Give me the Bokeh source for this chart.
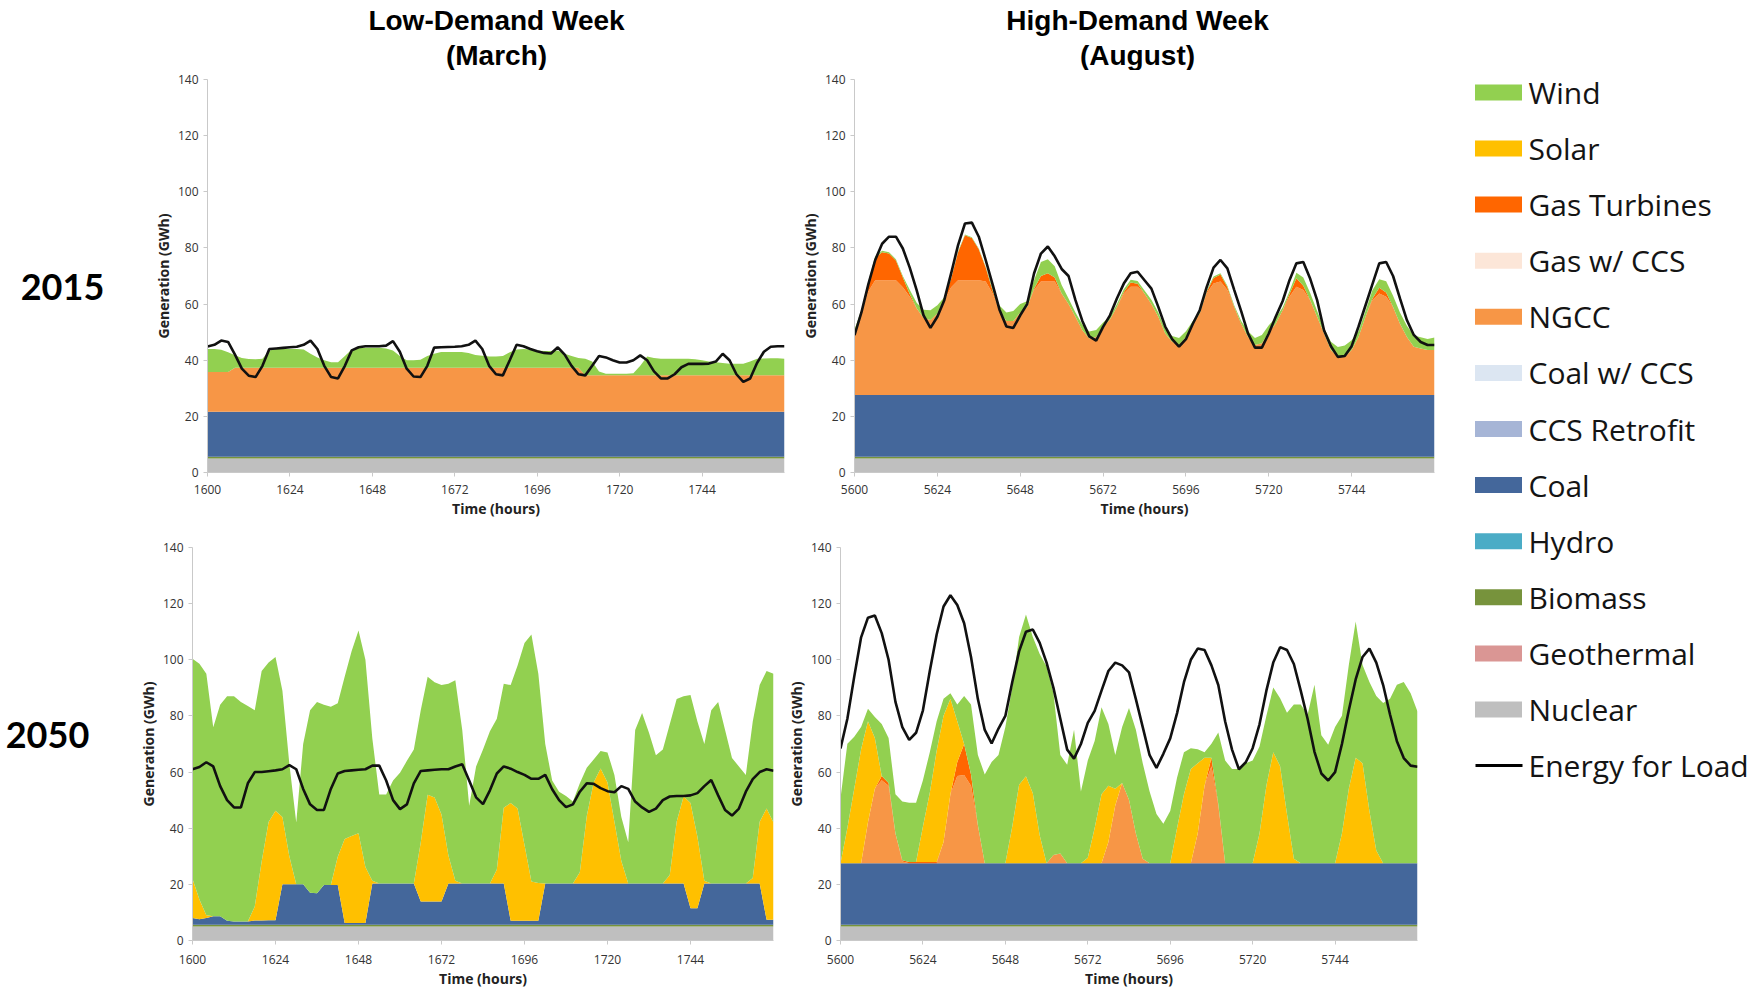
from bokeh.plotting import figure
from bokeh.models import Range1d, FixedTicker, ColumnDataSource
from bokeh.layouts import row, column
from bokeh.embed import file_html
from bokeh.resources import INLINE
from bokeh.core.properties import value

# ---------------- data (GWh, every 2 hours) ----------------
HOURS_MARCH = list(range(1600, 1770, 2))
HOURS_AUG = list(range(5600, 5770, 2))
TICKS_MARCH = [1600, 1624, 1648, 1672, 1696, 1720, 1744]
TICKS_AUG = [5600, 5624, 5648, 5672, 5696, 5720, 5744]
Y_TICKS = [0, 20, 40, 60, 80, 100, 120, 140]

COL_TITLES = ["Low-Demand Week", "High-Demand Week"]
COL_SUBTITLES = ["(March)", "(August)"]
ROW_LABELS = ["2015", "2050"]

LEGEND_NAMES = ["Wind", "Solar", "Gas Turbines", "Gas w/ CCS", "NGCC", "Coal w/ CCS",
                "CCS Retrofit", "Coal", "Hydro", "Biomass", "Geothermal", "Nuclear"]
LEGEND_COLORS = ["#92D050", "#FFC000", "#FF6600", "#FCE6D8", "#F79646", "#DCE6F2",
                 "#A6B5D6", "#44679B", "#4BACC6", "#77933C", "#DA9694", "#BFBFBF"]
LOAD_NAME = "Energy for Load"
COLOR = dict(zip(LEGEND_NAMES, LEGEND_COLORS))

NUCLEAR = [
    5.0, 5.0, 5.0, 5.0, 5.0, 5.0, 5.0, 5.0, 5.0, 5.0, 5.0, 5.0,
    5.0, 5.0, 5.0, 5.0, 5.0, 5.0, 5.0, 5.0, 5.0, 5.0, 5.0, 5.0,
    5.0, 5.0, 5.0, 5.0, 5.0, 5.0, 5.0, 5.0, 5.0, 5.0, 5.0, 5.0,
    5.0, 5.0, 5.0, 5.0, 5.0, 5.0, 5.0, 5.0, 5.0, 5.0, 5.0, 5.0,
    5.0, 5.0, 5.0, 5.0, 5.0, 5.0, 5.0, 5.0, 5.0, 5.0, 5.0, 5.0,
    5.0, 5.0, 5.0, 5.0, 5.0, 5.0, 5.0, 5.0, 5.0, 5.0, 5.0, 5.0,
    5.0, 5.0, 5.0, 5.0, 5.0, 5.0, 5.0, 5.0, 5.0, 5.0, 5.0, 5.0,
    5.0]
BIOMASS = [
    0.6, 0.6, 0.6, 0.6, 0.6, 0.6, 0.6, 0.6, 0.6, 0.6, 0.6, 0.6,
    0.6, 0.6, 0.6, 0.6, 0.6, 0.6, 0.6, 0.6, 0.6, 0.6, 0.6, 0.6,
    0.6, 0.6, 0.6, 0.6, 0.6, 0.6, 0.6, 0.6, 0.6, 0.6, 0.6, 0.6,
    0.6, 0.6, 0.6, 0.6, 0.6, 0.6, 0.6, 0.6, 0.6, 0.6, 0.6, 0.6,
    0.6, 0.6, 0.6, 0.6, 0.6, 0.6, 0.6, 0.6, 0.6, 0.6, 0.6, 0.6,
    0.6, 0.6, 0.6, 0.6, 0.6, 0.6, 0.6, 0.6, 0.6, 0.6, 0.6, 0.6,
    0.6, 0.6, 0.6, 0.6, 0.6, 0.6, 0.6, 0.6, 0.6, 0.6, 0.6, 0.6,
    0.6]

# 2015 March
TL_COAL = [
    16.0, 16.0, 16.0, 16.0, 16.0, 16.0, 16.0, 16.0, 16.0, 16.0, 16.0, 16.0,
    16.0, 16.0, 16.0, 16.0, 16.0, 16.0, 16.0, 16.0, 16.0, 16.0, 16.0, 16.0,
    16.0, 16.0, 16.0, 16.0, 16.0, 16.0, 16.0, 16.0, 16.0, 16.0, 16.0, 16.0,
    16.0, 16.0, 16.0, 16.0, 16.0, 16.0, 16.0, 16.0, 16.0, 16.0, 16.0, 16.0,
    16.0, 16.0, 16.0, 16.0, 16.0, 16.0, 16.0, 16.0, 16.0, 16.0, 16.0, 16.0,
    16.0, 16.0, 16.0, 16.0, 16.0, 16.0, 16.0, 16.0, 16.0, 16.0, 16.0, 16.0,
    16.0, 16.0, 16.0, 16.0, 16.0, 16.0, 16.0, 16.0, 16.0, 16.0, 16.0, 16.0,
    16.0]
TL_NGCC = [
    14.2, 14.2, 14.2, 14.2, 15.7, 15.7, 15.7, 15.7, 15.7, 15.7, 15.7, 15.7,
    15.7, 15.7, 15.7, 15.7, 15.7, 15.7, 15.7, 15.7, 15.7, 15.7, 15.7, 15.7,
    15.7, 15.7, 15.7, 15.7, 15.7, 15.7, 15.7, 15.7, 15.7, 15.7, 15.7, 15.7,
    15.7, 15.7, 15.7, 15.7, 15.7, 15.7, 15.7, 15.7, 15.7, 15.7, 15.7, 15.7,
    15.7, 15.7, 15.7, 15.7, 15.7, 15.7, 15.7, 13.0, 13.0, 13.0, 13.0, 13.0,
    13.0, 13.0, 13.0, 13.0, 13.0, 13.0, 13.0, 13.0, 13.0, 13.0, 13.0, 13.0,
    13.0, 13.0, 13.0, 13.0, 13.0, 13.0, 13.0, 13.0, 13.0, 13.0, 13.0, 13.0,
    13.0]
TL_WIND = [
    8.2, 8.2, 7.9, 7.0, 4.5, 3.5, 3.1, 3.0, 3.2, 6.2, 6.7, 6.7,
    6.7, 6.7, 6.5, 5.0, 3.7, 2.7, 2.0, 2.0, 4.2, 6.5, 7.1, 7.1,
    7.1, 7.1, 6.9, 6.2, 4.2, 2.7, 2.7, 2.9, 4.2, 5.0, 5.6, 5.6,
    5.6, 5.6, 5.3, 4.6, 4.3, 4.0, 4.0, 4.2, 5.5, 6.5, 6.7, 6.5,
    6.2, 6.0, 6.0, 6.2, 5.0, 4.2, 3.5, 5.9, 4.9, 1.4, 0.6, 0.6,
    0.6, 0.6, 0.8, 3.4, 6.7, 6.2, 5.9, 5.9, 5.9, 5.9, 5.9, 5.7,
    5.4, 4.9, 4.7, 4.4, 4.1, 4.1, 4.1, 4.9, 5.9, 6.0, 6.1, 6.1,
    5.9]
TL_LOAD = [
    44.9, 45.5, 47.0, 46.5, 42.0, 37.0, 34.5, 34.0, 38.0, 44.0, 44.2, 44.4,
    44.6, 44.8, 45.5, 47.0, 44.0, 38.0, 34.0, 33.5, 38.0, 43.5, 44.6, 45.0,
    45.0, 45.0, 45.2, 46.8, 43.0, 37.0, 34.2, 34.0, 38.0, 44.5, 44.6, 44.7,
    44.8, 45.0, 45.5, 47.0, 44.0, 38.0, 35.0, 34.6, 40.0, 45.5, 45.0, 44.0,
    43.2, 42.6, 42.4, 44.6, 42.0, 38.0, 35.0, 34.6, 38.0, 41.5, 41.0, 40.0,
    39.2, 39.2, 40.0, 41.7, 40.0, 36.0, 33.5, 33.5, 35.0, 37.5, 38.7, 38.7,
    38.7, 38.8, 39.5, 42.3, 40.0, 35.0, 32.3, 33.5, 39.0, 43.0, 44.8, 45.0,
    45.0]

# 2015 August
TR_COAL = [
    22.0, 22.0, 22.0, 22.0, 22.0, 22.0, 22.0, 22.0, 22.0, 22.0, 22.0, 22.0,
    22.0, 22.0, 22.0, 22.0, 22.0, 22.0, 22.0, 22.0, 22.0, 22.0, 22.0, 22.0,
    22.0, 22.0, 22.0, 22.0, 22.0, 22.0, 22.0, 22.0, 22.0, 22.0, 22.0, 22.0,
    22.0, 22.0, 22.0, 22.0, 22.0, 22.0, 22.0, 22.0, 22.0, 22.0, 22.0, 22.0,
    22.0, 22.0, 22.0, 22.0, 22.0, 22.0, 22.0, 22.0, 22.0, 22.0, 22.0, 22.0,
    22.0, 22.0, 22.0, 22.0, 22.0, 22.0, 22.0, 22.0, 22.0, 22.0, 22.0, 22.0,
    22.0, 22.0, 22.0, 22.0, 22.0, 22.0, 22.0, 22.0, 22.0, 22.0, 22.0, 22.0,
    22.0]
TR_NGCC = [
    21.3, 29.4, 36.9, 40.9, 40.9, 40.9, 40.9, 38.4, 35.0, 30.9, 27.4, 26.7,
    29.0, 33.8, 38.4, 40.9, 40.9, 40.9, 40.9, 40.4, 36.2, 29.9, 26.4, 26.4,
    29.4, 31.4, 37.4, 40.4, 40.4, 40.4, 36.2, 32.4, 27.9, 23.1, 20.1, 20.7,
    24.3, 26.9, 31.4, 36.2, 38.6, 38.6, 36.2, 32.4, 27.9, 21.9, 19.0, 17.8,
    20.7, 25.4, 29.0, 36.2, 39.7, 40.4, 37.4, 31.4, 25.4, 20.7, 17.8, 18.4,
    22.4, 25.4, 30.2, 35.0, 38.6, 37.4, 33.8, 27.9, 21.9, 16.0, 13.6, 13.6,
    16.0, 20.7, 27.9, 33.8, 36.2, 35.0, 31.4, 25.4, 20.7, 17.2, 16.6, 16.0,
    16.0]
TR_GT = [
    0.0, 0.5, 3.0, 8.0, 10.0, 9.5, 7.0, 3.5, 1.0, 0.0, 0.0, 0.0,
    0.0, 0.0, 3.0, 10.0, 16.0, 15.0, 11.0, 5.0, 1.0, 0.0, 0.0, 0.0,
    0.0, 0.0, 0.5, 2.0, 3.0, 1.5, 0.0, 0.0, 0.0, 0.0, 0.0, 0.0,
    0.0, 0.0, 0.0, 0.5, 1.5, 1.0, 0.0, 0.0, 0.0, 0.0, 0.0, 0.0,
    0.0, 0.0, 0.0, 0.5, 2.0, 2.5, 1.0, 0.0, 0.0, 0.0, 0.0, 0.0,
    0.0, 0.0, 0.0, 1.0, 3.0, 1.5, 0.0, 0.0, 0.0, 0.0, 0.0, 0.0,
    0.0, 0.0, 0.0, 0.5, 2.0, 1.5, 0.0, 0.0, 0.0, 0.0, 0.0, 0.0,
    0.0]
TR_WIND = [
    2.0, 0.5, 0.5, 0.5, 0.5, 0.5, 0.5, 0.5, 1.5, 2.0, 3.0, 3.5,
    3.0, 1.0, 0.3, 0.3, 0.3, 0.3, 0.3, 0.3, 1.0, 2.0, 3.0, 3.5,
    3.0, 2.0, 3.0, 5.0, 5.0, 4.0, 3.0, 2.0, 1.5, 2.0, 2.5, 2.5,
    1.5, 1.0, 1.0, 1.0, 1.0, 1.0, 1.0, 1.5, 1.5, 1.5, 2.0, 2.5,
    2.0, 1.0, 0.5, 0.5, 0.5, 0.5, 0.5, 0.5, 1.0, 2.0, 2.5, 3.0,
    2.5, 2.0, 1.0, 1.0, 2.0, 3.0, 2.5, 2.0, 2.0, 3.0, 3.5, 4.0,
    3.5, 2.0, 2.0, 3.0, 3.0, 4.0, 4.0, 4.0, 4.0, 4.0, 4.0, 4.0,
    4.5]
TR_LOAD = [
    48.9, 57.0, 67.0, 75.7, 81.5, 84.0, 84.0, 79.8, 73.0, 65.0, 56.0, 51.5,
    55.5, 61.4, 71.0, 81.0, 88.7, 89.0, 84.0, 75.7, 67.0, 58.0, 52.0, 51.5,
    56.0, 60.0, 70.9, 78.0, 80.5, 77.0, 72.5, 70.0, 61.4, 54.0, 48.5, 47.0,
    51.9, 56.0, 62.0, 67.3, 71.0, 71.5, 68.5, 65.5, 59.0, 52.0, 47.5, 44.8,
    47.5, 53.0, 57.8, 66.0, 73.0, 75.7, 72.7, 65.0, 57.5, 49.5, 44.5, 44.5,
    49.5, 55.5, 61.0, 68.5, 74.5, 75.0, 69.0, 61.4, 50.7, 45.0, 41.2, 41.5,
    45.0, 52.0, 59.5, 67.0, 74.5, 75.0, 70.0, 62.0, 54.3, 49.0, 46.5, 45.4,
    45.4]

# 2050 March
BL_COAL = [
    2.4, 2.0, 2.4, 3.0, 3.0, 1.4, 1.2, 1.2, 1.2, 1.5, 1.5, 1.6,
    1.6, 14.4, 14.4, 14.4, 14.4, 11.4, 11.2, 14.2, 14.2, 14.2, 0.6, 0.6,
    0.6, 0.6, 14.7, 14.7, 14.7, 14.7, 14.7, 14.7, 14.7, 8.3, 8.3, 8.3,
    8.3, 14.7, 14.7, 14.7, 14.7, 14.7, 14.7, 14.7, 14.7, 14.7, 1.4, 1.4,
    1.4, 1.4, 1.4, 14.7, 14.7, 14.7, 14.7, 14.7, 14.7, 14.7, 14.7, 14.7,
    14.7, 14.7, 14.7, 14.7, 14.7, 14.7, 14.7, 14.7, 14.7, 14.7, 14.7, 14.7,
    5.9, 5.9, 14.7, 14.7, 14.7, 14.7, 14.7, 14.7, 14.7, 14.7, 14.7, 1.8,
    1.8]
BL_SOLAR = [
    14.0, 7.0, 1.0, 0.0, 0.0, 0.0, 0.0, 0.0, 0.0, 5.0, 21.0, 35.0,
    39.0, 24.0, 10.0, 0.0, 0.0, 0.0, 0.0, 0.0, 0.0, 10.0, 30.0, 31.0,
    32.0, 20.0, 1.0, 0.0, 0.0, 0.0, 0.0, 0.0, 0.0, 21.0, 38.0, 37.0,
    31.0, 10.0, 1.0, 0.0, 0.0, 0.0, 0.0, 0.0, 5.0, 27.0, 42.0, 40.0,
    27.0, 14.0, 13.5, 0.0, 0.0, 0.0, 0.0, 0.0, 4.0, 24.0, 36.0, 41.0,
    36.0, 22.0, 8.0, 0.0, 0.0, 0.0, 0.0, 0.0, 0.0, 3.0, 22.0, 31.0,
    37.5, 25.5, 1.0, 0.0, 0.0, 0.0, 0.0, 0.0, 0.0, 2.0, 22.0, 39.6,
    34.6]
BL_WIND = [
    78.4, 84.0, 86.0, 67.4, 75.4, 80.0, 80.2, 78.2, 76.7, 69.9, 67.9, 56.8,
    54.8, 45.0, 33.0, 22.0, 50.0, 65.0, 68.2, 64.2, 63.5, 54.7, 57.8, 65.8,
    72.2, 73.8, 50.7, 31.7, 31.7, 36.7, 39.5, 43.7, 47.7, 47.1, 42.1, 41.1,
    46.1, 61.2, 71.4, 54.7, 27.7, 41.7, 47.7, 54.2, 53.7, 44.2, 42.0, 51.0,
    72.0, 88.0, 74.5, 49.7, 36.7, 32.7, 31.2, 29.2, 31.7, 17.2, 8.2, 6.2,
    10.7, 16.7, 15.7, 14.7, 54.7, 60.7, 53.7, 45.7, 47.7, 53.7, 43.7, 35.7,
    38.5, 41.0, 48.7, 61.7, 64.7, 54.7, 44.7, 41.7, 38.7, 55.7, 48.7, 49.0,
    53.0]
BL_LOAD = [
    61.0, 61.8, 63.5, 62.0, 55.0, 50.0, 47.4, 47.4, 56.0, 60.0, 60.0, 60.3,
    60.6, 61.0, 62.5, 61.0, 54.0, 48.5, 46.5, 46.5, 54.0, 59.5, 60.4, 60.6,
    60.8, 61.0, 62.3, 62.3, 57.0, 50.0, 46.8, 48.5, 56.0, 60.4, 60.6, 60.8,
    61.0, 61.0, 62.0, 62.8, 57.0, 51.0, 48.6, 53.5, 59.5, 62.0, 61.2, 60.0,
    59.0, 57.6, 57.6, 59.0, 53.9, 50.0, 47.5, 48.5, 53.0, 56.0, 55.8, 54.3,
    53.2, 52.8, 55.0, 54.0, 49.5, 47.4, 45.8, 47.0, 50.0, 51.3, 51.5, 51.5,
    51.7, 52.5, 55.0, 57.2, 51.7, 46.5, 44.5, 47.0, 53.0, 57.5, 60.0, 61.0,
    60.5]

# 2050 August
BR_COAL = [
    21.9, 21.9, 21.9, 21.9, 21.9, 21.9, 21.9, 21.9, 21.9, 21.9, 21.9, 21.9,
    21.9, 21.9, 21.9, 21.9, 21.9, 21.9, 21.9, 21.9, 21.9, 21.9, 21.9, 21.9,
    21.9, 21.9, 21.9, 21.9, 21.9, 21.9, 21.9, 21.9, 21.9, 21.9, 21.9, 21.9,
    21.9, 21.9, 21.9, 21.9, 21.9, 21.9, 21.9, 21.9, 21.9, 21.9, 21.9, 21.9,
    21.9, 21.9, 21.9, 21.9, 21.9, 21.9, 21.9, 21.9, 21.9, 21.9, 21.9, 21.9,
    21.9, 21.9, 21.9, 21.9, 21.9, 21.9, 21.9, 21.9, 21.9, 21.9, 21.9, 21.9,
    21.9, 21.9, 21.9, 21.9, 21.9, 21.9, 21.9, 21.9, 21.9, 21.9, 21.9, 21.9,
    21.9]
BR_NGCC = [
    0.0, 0.0, 0.0, 0.0, 14.6, 26.6, 29.6, 27.6, 10.6, 0.6, 0.0, 0.0,
    0.0, 0.0, 0.0, 7.6, 24.6, 31.1, 31.5, 27.6, 13.6, 0.0, 0.0, 0.0,
    0.0, 0.0, 0.0, 0.0, 0.0, 0.0, 0.0, 3.0, 3.5, 0.0, 0.0, 0.0,
    0.0, 0.0, 0.0, 7.6, 20.6, 28.6, 22.6, 10.6, 1.6, 0.0, 0.0, 0.0,
    0.0, 0.0, 0.0, 0.0, 10.6, 27.6, 34.6, 20.6, 0.0, 0.0, 0.0, 0.0,
    0.0, 0.0, 0.0, 0.0, 0.0, 0.0, 0.0, 0.0, 0.0, 0.0, 0.0, 0.0,
    0.0, 0.0, 0.0, 0.0, 0.0, 0.0, 0.0, 0.0, 0.0, 0.0, 0.0, 0.0,
    0.0]
BR_GT = [
    0.0, 0.0, 0.0, 0.0, 0.0, 0.0, 1.5, 1.0, 0.0, 0.5, 0.5, 0.5,
    0.5, 0.5, 0.5, 0.0, 0.0, 5.0, 11.0, 4.0, 0.0, 0.0, 0.0, 0.0,
    0.0, 0.0, 0.0, 0.0, 0.0, 0.0, 0.0, 0.0, 0.0, 0.0, 0.0, 0.0,
    0.0, 0.0, 0.0, 0.0, 0.0, 0.0, 0.0, 0.0, 0.0, 0.0, 0.0, 0.0,
    0.0, 0.0, 0.0, 0.0, 0.0, 0.0, 3.0, 0.5, 0.0, 0.0, 0.0, 0.0,
    0.0, 0.0, 0.0, 0.0, 0.0, 0.0, 0.0, 0.0, 0.0, 0.0, 0.0, 0.0,
    0.0, 0.0, 0.0, 0.0, 0.0, 0.0, 0.0, 0.0, 0.0, 0.0, 0.0, 0.0,
    0.0]
BR_SOLAR = [
    0.0, 12.6, 26.6, 40.6, 36.0, 18.0, 0.0, 0.0, 0.0, 0.0, 0.0, 0.0,
    12.6, 24.6, 39.6, 45.0, 34.0, 14.5, 0.0, 0.0, 0.0, 0.0, 0.0, 0.0,
    0.0, 13.0, 28.0, 31.0, 25.0, 10.0, 0.0, 0.0, 0.0, 0.0, 0.0, 0.0,
    2.0, 12.6, 24.6, 20.0, 6.0, 0.0, 0.0, 0.0, 0.0, 0.0, 0.0, 0.0,
    0.0, 12.6, 24.6, 33.6, 25.0, 10.0, 0.0, 0.0, 0.0, 0.0, 0.0, 0.0,
    0.0, 10.6, 27.6, 39.6, 34.6, 17.6, 1.6, 0.0, 0.0, 0.0, 0.0, 0.0,
    0.0, 10.6, 26.6, 37.6, 35.6, 18.6, 4.6, 0.0, 0.0, 0.0, 0.0, 0.0,
    0.0]
BR_WIND = [
    23.2, 30.0, 18.5, 8.0, 4.5, 7.5, 18.5, 16.0, 14.0, 20.9, 21.1, 21.1,
    16.5, 14.5, 10.5, 6.0, 2.0, 6.0, 17.1, 25.0, 25.0, 31.6, 36.1, 38.6,
    48.6, 49.6, 52.6, 57.6, 55.6, 64.6, 70.1, 57.6, 35.1, 35.1, 47.6, 25.6,
    34.6, 31.0, 31.0, 22.0, 12.0, 20.0, 32.7, 37.0, 34.0, 25.6, 17.6, 14.1,
    18.6, 18.0, 15.0, 7.4, 5.0, 2.0, 5.0, 25.5, 36.6, 33.6, 33.6, 35.6,
    36.6, 31.0, 25.0, 23.0, 24.2, 36.0, 55.0, 56.6, 52.9, 63.6, 45.6, 42.2,
    48.6, 42.0, 44.0, 48.5, 35.0, 46.0, 55.0, 57.1, 58.6, 63.6, 64.6, 60.6,
    54.1]
BR_LOAD = [
    68.4, 79.0, 94.0, 108.0, 115.0, 115.8, 109.5, 100.0, 85.0, 76.0, 71.5, 74.0,
    82.0, 96.0, 109.0, 119.0, 123.0, 119.5, 113.0, 101.0, 86.0, 75.0, 70.2, 75.5,
    80.0, 92.0, 103.0, 110.0, 110.8, 106.0, 99.0, 90.0, 79.0, 68.0, 64.8, 70.0,
    77.5, 81.8, 89.0, 96.0, 99.0, 98.0, 95.5, 86.0, 76.0, 66.0, 61.5, 66.5,
    72.0, 81.0, 92.0, 100.0, 104.0, 103.5, 98.0, 91.0, 78.0, 68.0, 61.0, 63.5,
    68.5, 77.0, 89.0, 99.0, 104.5, 103.5, 98.5, 89.0, 79.0, 67.2, 59.5, 57.0,
    60.0, 70.0, 82.0, 93.0, 101.0, 104.0, 99.0, 91.0, 80.5, 71.0, 65.0, 62.3,
    61.9]

for arr in [NUCLEAR, BIOMASS, TL_COAL, TL_NGCC, TL_WIND, TL_LOAD, TR_COAL, TR_NGCC, TR_GT,
            TR_WIND, TR_LOAD, BL_COAL, BL_SOLAR, BL_WIND, BL_LOAD, BR_COAL, BR_NGCC, BR_GT,
            BR_SOLAR, BR_WIND, BR_LOAD]:
    assert len(arr) == 85, len(arr)

TICK_FONT = "Open Sans"
LABEL_FONT = "Open Sans"


def make_panel(hours, ticks, layers, load, width, height, bl, br, bt, bb, tick_standoff):
    data = {"x": hours, "load": load}
    names, colors = [], []
    for name, vals in layers:
        data[name] = vals
        names.append(name)
        colors.append(COLOR[name])
    src = ColumnDataSource(data)
    p = figure(width=width, height=height, x_range=Range1d(hours[0], hours[-1]),
               y_range=Range1d(0, 140), output_backend="svg", toolbar_location=None,
               min_border_left=bl, min_border_right=br, min_border_top=bt, min_border_bottom=bb)
    p.varea_stack(stackers=names, x="x", color=colors, source=src)
    p.line("x", "load", source=src, line_color="#111111", line_width=2.6)
    p.xaxis.ticker = FixedTicker(ticks=ticks)
    p.yaxis.ticker = FixedTicker(ticks=Y_TICKS)
    p.xaxis.axis_label = "Time (hours)"
    p.yaxis.axis_label = "Generation (GWh)"
    for ax in p.axis:
        ax.axis_line_color = "#C9C9C9"
        ax.major_tick_line_color = "#C9C9C9"
        ax.minor_tick_line_color = None
        ax.major_tick_out = 4
        ax.major_tick_in = 0
        ax.major_label_text_font = TICK_FONT
        ax.major_label_text_font_size = "12px"
        ax.major_label_text_color = "#333333"
        ax.axis_label_text_font = LABEL_FONT
        ax.axis_label_text_font_size = "14px"
        ax.axis_label_text_font_style = "bold"
        ax.axis_label_text_color = "#222222"
        ax.axis_label_standoff = 2
    p.yaxis.major_label_standoff = 5
    p.xaxis.major_label_standoff = tick_standoff
    p.xgrid.visible = False
    p.ygrid.visible = False
    p.outline_line_color = None
    p.background_fill_color = "white"
    return p


def text_canvas(w, h, top=0, bottom=0):
    # frame spans h - top - bottom pixels; y runs downward in pixels from the frame top
    fh = h - top - bottom
    p = figure(width=w, height=h, x_range=Range1d(0, w), y_range=Range1d(fh, 0),
               output_backend="svg", toolbar_location=None, x_axis_type=None,
               y_axis_type=None, min_border=0, min_border_top=top, min_border_bottom=bottom)
    p.outline_line_color = None
    return p


# header with column titles
header = text_canvas(1448, 70)
header.text(x=[496, 1137], y=[20, 20], text=COL_TITLES, text_align="center",
            text_baseline="middle", text_font=value("Liberation Sans"),
            text_font_style="bold", text_font_size="28px", text_color="black")
header.text(x=[496, 1137], y=[55, 55], text=COL_SUBTITLES, text_align="center",
            text_baseline="middle", text_font=value("Liberation Sans"),
            text_font_style="bold", text_font_size="28px", text_color="black")

# row labels (frames aligned with the panels' frames in the same row)
lab1 = text_canvas(150, 465, top=9, bottom=63)
lab1.text(x=[62], y=[207], text=[ROW_LABELS[0]], text_align="center", text_baseline="middle",
          text_font=value("Lato"), text_font_style="bold", text_font_size="36px",
          text_color="black")
lab2 = text_canvas(135, 455, top=12, bottom=50)
lab2.text(x=[47], y=[187], text=[ROW_LABELS[1]], text_align="center", text_baseline="middle",
          text_font=value("Lato"), text_font_style="bold", text_font_size="36px",
          text_color="black")

tl = make_panel(HOURS_MARCH, TICKS_MARCH,
                [("Nuclear", NUCLEAR), ("Biomass", BIOMASS), ("Coal", TL_COAL),
                 ("NGCC", TL_NGCC), ("Wind", TL_WIND)], TL_LOAD,
                647, 465, 55, 13, 9, 63, 8)
tr = make_panel(HOURS_AUG, TICKS_AUG,
                [("Nuclear", NUCLEAR), ("Biomass", BIOMASS), ("Coal", TR_COAL),
                 ("NGCC", TR_NGCC), ("Gas Turbines", TR_GT), ("Wind", TR_WIND)], TR_LOAD,
                651, 465, 55, 14, 9, 63, 8)
bl = make_panel(HOURS_MARCH, TICKS_MARCH,
                [("Nuclear", NUCLEAR), ("Biomass", BIOMASS), ("Coal", BL_COAL),
                 ("Solar", BL_SOLAR), ("Wind", BL_WIND)], BL_LOAD,
                648, 455, 55, 10, 12, 50, 10)
br = make_panel(HOURS_AUG, TICKS_AUG,
                [("Nuclear", NUCLEAR), ("Biomass", BIOMASS), ("Coal", BR_COAL),
                 ("NGCC", BR_NGCC), ("Gas Turbines", BR_GT), ("Solar", BR_SOLAR),
                 ("Wind", BR_WIND)], BR_LOAD,
                665, 455, 55, 31, 12, 50, 10)

# legend
leg = text_canvas(305, 990)
n = len(LEGEND_NAMES)
ys = [91.9 + 56.1 * i for i in range(n + 1)]
leg.rect(x=[50] * n, y=ys[:n], width=47, height=16, fill_color=LEGEND_COLORS,
         line_color=None)
leg.line(x=[27, 74], y=[ys[n], ys[n]], line_color="black", line_width=3)
leg.text(x=[80] * (n + 1), y=ys, text=LEGEND_NAMES + [LOAD_NAME], text_align="left",
         text_baseline="middle", text_font=value("Open Sans"), text_font_size="30px",
         text_color="#141414")

left = column(header, row(lab1, tl, tr), row(lab2, bl, br))
layout = row(left, leg)

open("out.html", "w").write(file_html(layout, INLINE, title="Generation dispatch"))
